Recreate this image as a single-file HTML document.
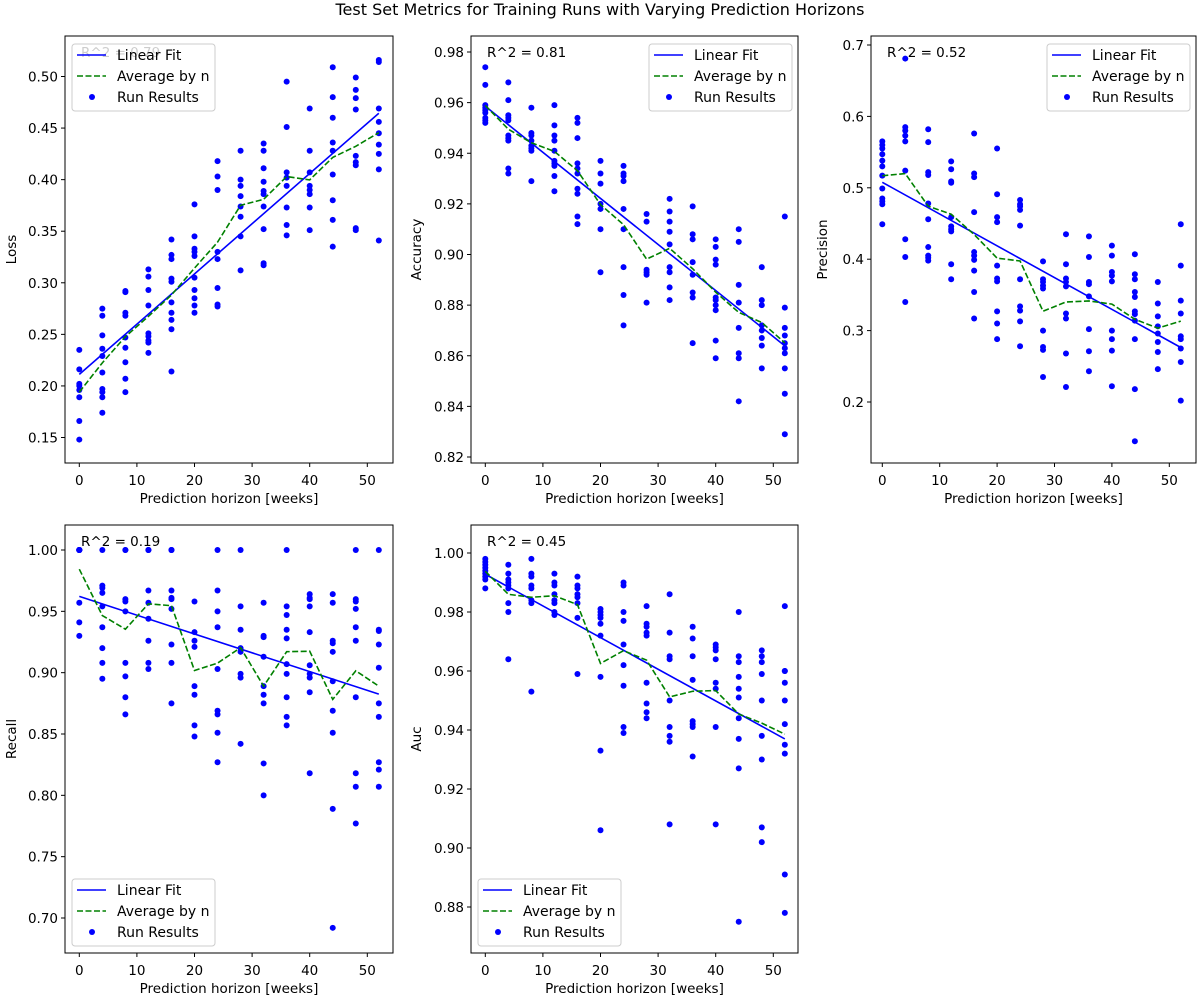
<!DOCTYPE html>
<html><head><meta charset="utf-8"><style>
html,body{margin:0;padding:0;background:#fff;}
svg{display:block;font-family:"DejaVu Sans","Liberation Sans",sans-serif;}
</style></head><body>
<svg id="fig" width="1200" height="1000" viewBox="0 0 1200 1000" xmlns="http://www.w3.org/2000/svg">
<rect x="0" y="0" width="1200" height="1000" fill="#fff"/>
<text x="600" y="15" text-anchor="middle" font-size="16" fill="#000">Test Set Metrics for Training Runs with Varying Prediction Horizons</text>
</svg>
<script>
const horizons = [0,4,8,12,16,20,24,28,32,36,40,44,48,52];
const xTicks = [0,10,20,30,40,50];
const lossVals = [
[0.235,0.216,0.202,0.200,0.196,0.189,0.166,0.148],
[0.275,0.268,0.249,0.236,0.229,0.213,0.197,0.194,0.189,0.174],
[0.292,0.291,0.271,0.268,0.247,0.237,0.223,0.207,0.194],
[0.313,0.306,0.293,0.278,0.251,0.248,0.244,0.242,0.232],
[0.342,0.327,0.323,0.304,0.301,0.281,0.271,0.264,0.255,0.214],
[0.376,0.345,0.333,0.330,0.326,0.305,0.293,0.285,0.278,0.271],
[0.418,0.403,0.390,0.330,0.323,0.295,0.279,0.277],
[0.428,0.400,0.394,0.384,0.374,0.364,0.345,0.312],
[0.435,0.428,0.411,0.398,0.389,0.386,0.374,0.352,0.319,0.317],
[0.495,0.451,0.407,0.402,0.394,0.373,0.356,0.346],
[0.469,0.428,0.407,0.394,0.390,0.386,0.373,0.351],
[0.509,0.480,0.460,0.436,0.428,0.405,0.380,0.361,0.335],
[0.499,0.487,0.479,0.468,0.423,0.417,0.414,0.353,0.351],
[0.516,0.514,0.469,0.456,0.445,0.434,0.425,0.410,0.341]];
const lossTicks = [0.15,0.20,0.25,0.30,0.35,0.40,0.45,0.50];
const accVals = [
[0.974,0.967,0.959,0.958,0.957,0.956,0.954,0.953,0.952],
[0.968,0.961,0.955,0.954,0.953,0.947,0.946,0.945,0.934,0.932],
[0.958,0.948,0.947,0.945,0.943,0.942,0.941,0.929],
[0.959,0.951,0.947,0.945,0.941,0.937,0.936,0.935,0.931,0.925],
[0.954,0.952,0.946,0.936,0.934,0.932,0.926,0.924,0.915,0.912],
[0.937,0.932,0.928,0.920,0.918,0.910,0.893],
[0.935,0.932,0.931,0.929,0.918,0.910,0.895,0.884,0.872],
[0.916,0.913,0.894,0.893,0.892,0.881],
[0.922,0.917,0.913,0.909,0.904,0.895,0.893,0.887,0.882],
[0.919,0.908,0.906,0.897,0.892,0.885,0.883,0.865],
[0.906,0.903,0.898,0.896,0.883,0.882,0.880,0.878,0.866,0.859],
[0.910,0.905,0.888,0.881,0.871,0.861,0.859,0.842],
[0.895,0.882,0.880,0.872,0.870,0.867,0.864,0.855],
[0.915,0.879,0.871,0.868,0.865,0.863,0.861,0.855,0.845,0.829]];
const accTicks = [0.82,0.84,0.86,0.88,0.90,0.92,0.94,0.96,0.98];
const precVals = [
[0.565,0.560,0.555,0.547,0.538,0.530,0.517,0.499,0.485,0.481,0.477,0.449],
[0.681,0.585,0.580,0.573,0.565,0.524,0.428,0.403,0.340],
[0.582,0.564,0.522,0.518,0.478,0.456,0.417,0.405,0.402,0.398],
[0.537,0.526,0.509,0.507,0.459,0.446,0.442,0.439,0.393,0.372],
[0.576,0.520,0.515,0.466,0.410,0.405,0.399,0.384,0.354,0.317],
[0.555,0.491,0.459,0.452,0.391,0.373,0.369,0.327,0.310,0.288],
[0.483,0.477,0.474,0.469,0.447,0.372,0.334,0.328,0.313,0.278],
[0.397,0.372,0.368,0.363,0.359,0.300,0.277,0.273,0.235],
[0.435,0.393,0.373,0.368,0.362,0.324,0.317,0.268,0.221],
[0.432,0.403,0.368,0.365,0.348,0.302,0.271,0.243],
[0.419,0.405,0.382,0.377,0.369,0.300,0.288,0.272,0.222],
[0.407,0.379,0.372,0.354,0.347,0.327,0.323,0.314,0.288,0.218,0.145],
[0.368,0.338,0.320,0.306,0.296,0.284,0.270,0.246],
[0.449,0.391,0.342,0.324,0.292,0.288,0.275,0.256,0.202]];
const precTicks = [0.2,0.3,0.4,0.5,0.6,0.7];
const recVals = [
[1.0,1.0,1.0,1.0,1.0,1.0,1.0,1.0,0.957,0.941,0.930],
[1.0,0.971,0.969,0.965,0.954,0.937,0.920,0.908,0.895],
[1.0,1.0,0.960,0.958,0.950,0.908,0.897,0.880,0.866],
[1.0,1.0,1.0,0.967,0.957,0.944,0.926,0.908,0.903],
[1.0,1.0,1.0,0.967,0.961,0.960,0.952,0.923,0.908,0.875],
[0.958,0.933,0.926,0.921,0.889,0.882,0.857,0.848],
[1.0,0.967,0.950,0.937,0.903,0.869,0.866,0.851,0.827],
[1.0,0.954,0.935,0.920,0.917,0.899,0.896,0.842],
[0.957,0.930,0.929,0.913,0.889,0.882,0.875,0.826,0.800],
[1.0,0.954,0.947,0.935,0.928,0.907,0.899,0.880,0.864,0.857],
[0.964,0.961,0.960,0.954,0.933,0.906,0.899,0.896,0.884,0.818],
[0.964,0.957,0.926,0.924,0.917,0.893,0.869,0.851,0.789,0.692],
[1.0,0.960,0.958,0.952,0.937,0.926,0.880,0.818,0.807,0.777],
[1.0,0.935,0.934,0.923,0.904,0.875,0.864,0.827,0.821,0.807]];
const recTicks = [0.70,0.75,0.80,0.85,0.90,0.95,1.00];
const aucVals = [
[0.998,0.997,0.996,0.995,0.994,0.993,0.992,0.991,0.988],
[0.996,0.993,0.991,0.990,0.989,0.988,0.983,0.980,0.964],
[0.998,0.993,0.992,0.989,0.988,0.984,0.983,0.953],
[0.993,0.990,0.989,0.986,0.984,0.983,0.980,0.979],
[0.992,0.989,0.988,0.986,0.985,0.983,0.978,0.959],
[0.981,0.980,0.979,0.978,0.976,0.972,0.958,0.933,0.906],
[0.990,0.989,0.980,0.977,0.969,0.962,0.955,0.941,0.939],
[0.982,0.976,0.975,0.973,0.972,0.956,0.949,0.946,0.944],
[0.986,0.973,0.965,0.964,0.950,0.941,0.938,0.936,0.908],
[0.975,0.971,0.965,0.957,0.943,0.942,0.941,0.931],
[0.969,0.968,0.967,0.964,0.956,0.954,0.941,0.908],
[0.980,0.965,0.963,0.958,0.954,0.951,0.944,0.937,0.927,0.875],
[0.967,0.965,0.963,0.959,0.950,0.938,0.930,0.907,0.902],
[0.982,0.960,0.960,0.956,0.950,0.942,0.935,0.932,0.891,0.878]];
const aucTicks = [0.88,0.90,0.92,0.94,0.96,0.98,1.00];
const r2Labels = ['0.79','0.81','0.52','0.19','0.45'];

const NS='http://www.w3.org/2000/svg';
const fig=document.getElementById('fig');
function mk(tag,attrs,parent){const e=document.createElementNS(NS,tag);for(const k in attrs)e.setAttribute(k,attrs[k]);(parent||fig).appendChild(e);return e;}

const panels=[
 {key:'loss',label:'Loss',vals:lossVals,ticks:lossTicks,dec:2,box:[65,36,393,463],x0:79.3,x50:367.3,ya:[0.15,437.5],yb:[0.50,76.5],leg:'tl',ylx:12},
 {key:'accuracy',label:'Accuracy',vals:accVals,ticks:accTicks,dec:2,box:[471,36,798,463],x0:485.3,x50:773.3,ya:[0.82,457],yb:[0.98,52],leg:'tr',ylx:417},
 {key:'precision',label:'Precision',vals:precVals,ticks:precTicks,dec:1,box:[871,36,1196,463],x0:882.3,x50:1169.3,ya:[0.2,402],yb:[0.7,45],leg:'tr',ylx:823},
 {key:'recall',label:'Recall',vals:recVals,ticks:recTicks,dec:2,box:[65,525,393,953],x0:79.3,x50:367.3,ya:[0.70,918],yb:[1.0,550],leg:'bl',ylx:12},
 {key:'auc',label:'Auc',vals:aucVals,ticks:aucTicks,dec:2,box:[471,525,798,953],x0:485.3,x50:773.3,ya:[0.88,907],yb:[1.0,553],leg:'bl',ylx:417}
];

panels.forEach((p,pi)=>{
 const [L,T,R,B]=p.box;
 const sx=v=>p.x0+(p.x50-p.x0)*v/50;
 const sy=v=>p.ya[1]+(p.yb[1]-p.ya[1])*(v-p.ya[0])/(p.yb[0]-p.ya[0]);
 const g=mk('g',{});
 
 
 const clipId='clip-'+p.key;
 const cp=mk('clipPath',{id:clipId},g);mk('rect',{x:L,y:T,width:R-L,height:B-T},cp);
 let xsAll=[],ysAll=[];
 p.vals.forEach((arr,i)=>arr.forEach(v=>{xsAll.push(horizons[i]);ysAll.push(v);}));
 const n=xsAll.length,mx=xsAll.reduce((a,b)=>a+b)/n,my=ysAll.reduce((a,b)=>a+b)/n;
 let sxy=0,sxx=0;for(let i=0;i<n;i++){sxy+=(xsAll[i]-mx)*(ysAll[i]-my);sxx+=(xsAll[i]-mx)**2;}
 const slope=sxy/sxx,icpt=my-slope*mx;
 const plot=mk('g',{'clip-path':'url(#'+clipId+')'},g);
 p.vals.forEach((arr,i)=>arr.forEach(v=>{
  const c=mk('circle',{cx:sx(horizons[i]),cy:sy(v),r:3,fill:'#0000ff'},plot);
  
  
 }));
 const fit=mk('line',{x1:sx(0),y1:sy(icpt),x2:sx(52),y2:sy(icpt+slope*52),stroke:'#0000ff','stroke-width':1.6},plot);
 
 
 const avgPts=p.vals.map((arr,i)=>sx(horizons[i])+','+sy(arr.reduce((a,b)=>a+b)/arr.length)).join(' ');
 const avg=mk('polyline',{points:avgPts,fill:'none',stroke:'#008000','stroke-width':1.6,'stroke-dasharray':'6,2.5'},plot);
 
 
 const r2txt=mk('text',{x:L+16,y:T+21,'font-size':13.5,fill:'#000'},g);
 r2txt.textContent='R^2 = '+r2Labels[pi];
 
 
 const fr=mk('rect',{x:L,y:T,width:R-L,height:B-T,fill:'none',stroke:'#000','stroke-width':1},g);
 
 
 xTicks.forEach(t=>{
  const x=sx(t);
  mk('line',{x1:x,y1:B,x2:x,y2:B+4,stroke:'#000','stroke-width':1},g);
  const tx=mk('text',{x:x,y:B+22,'text-anchor':'middle','font-size':13.5,fill:'#000'},g);
  tx.textContent=t;
  
  
 });
 p.ticks.forEach(t=>{
  const y=sy(t);
  mk('line',{x1:L-4,y1:y,x2:L,y2:y,stroke:'#000','stroke-width':1},g);
  const tx=mk('text',{x:L-7,y:y+5,'text-anchor':'end','font-size':13.5,fill:'#000'},g);
  tx.textContent=t.toFixed(p.dec);
  
  
 });
 const xl=mk('text',{x:(L+R)/2,y:B+40,'text-anchor':'middle','font-size':13.5,fill:'#000'},g);
 xl.textContent='Prediction horizon [weeks]';
 
 
 const ycy=(T+B)/2;
 const yl=mk('text',{x:p.ylx+4,y:ycy,'text-anchor':'middle','font-size':13.5,fill:'#000',transform:'rotate(-90 '+(p.ylx+4)+' '+ycy+')'},g);
 yl.textContent=p.label;
 
 
 const lw=143,lh=67;
 let lx,ly;
 if(p.leg==='tl'){lx=L+7;ly=T+8;}else if(p.leg==='tr'){lx=R-6-lw;ly=T+8;}else{lx=L+7;ly=B-7-lh;}
 const lg=mk('g',{},g);
 
 
 mk('rect',{x:lx,y:ly,width:lw,height:lh,rx:3,fill:'#fff','fill-opacity':0.8,stroke:'#cccccc','stroke-width':1},lg);
 const items=[['Linear Fit','line'],['Average by n','dash'],['Run Results','dot']];
 items.forEach((it,i)=>{
  const cy=ly+11+i*21;
  const e=mk('g',{},lg);
  
  
  if(it[1]==='line')mk('line',{x1:lx+5,y1:cy,x2:lx+34,y2:cy,stroke:'#0000ff','stroke-width':1.6},e);
  else if(it[1]==='dash')mk('line',{x1:lx+5,y1:cy,x2:lx+34,y2:cy,stroke:'#008000','stroke-width':1.6,'stroke-dasharray':'6,2.5'},e);
  else mk('circle',{cx:lx+20,cy:cy,r:3,fill:'#0000ff'},e);
  const t=mk('text',{x:lx+45,y:cy+5,'font-size':14,fill:'#000'},e);
  t.textContent=it[0];
 });
});
</script>
</body></html>
